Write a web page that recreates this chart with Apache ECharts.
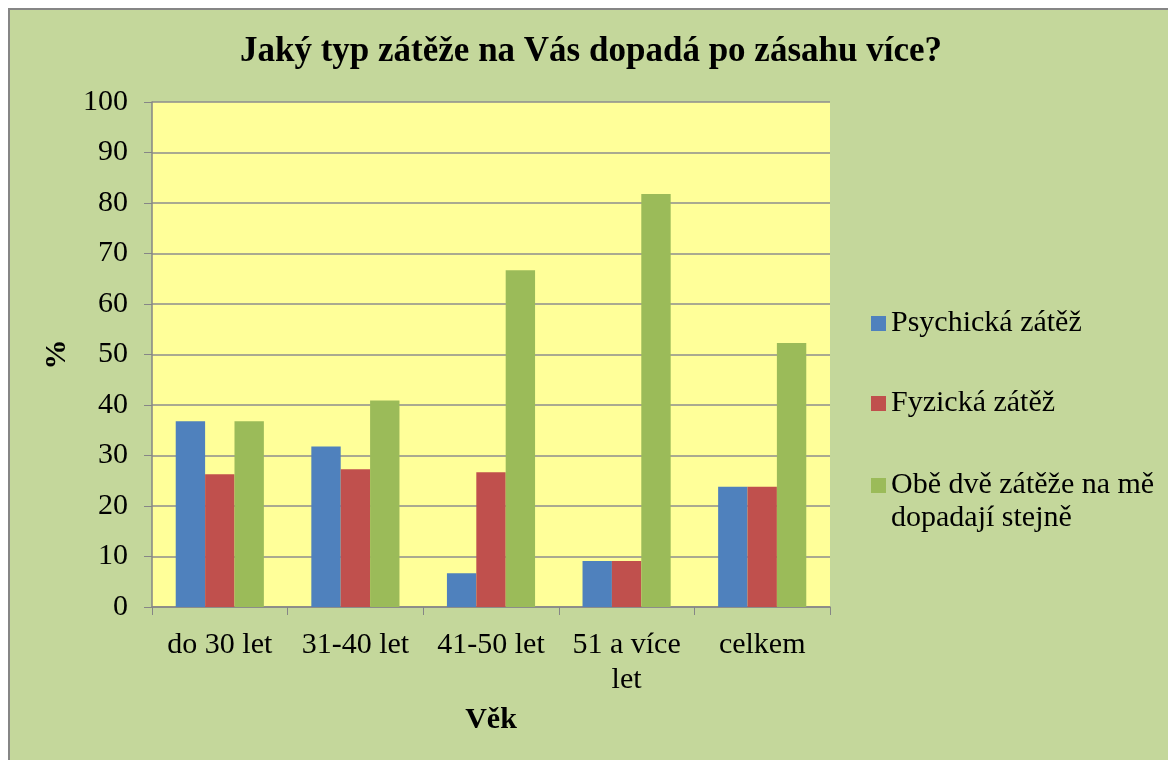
<!DOCTYPE html>
<html>
<head>
<meta charset="utf-8">
<script src="https://cdn.jsdelivr.net/npm/echarts@6/dist/echarts.min.js"></script>
<style>
  html, body { margin: 0; padding: 0; background: #fff; }
  #chart { width: 1168px; height: 760px; }
</style>
</head>
<body>
<div id="chart"></div>
<script>
// data
const categories = ['do 30 let', '31-40 let', '41-50 let', '51 a více let', 'celkem'];
const psychicka = [36.8, 31.8, 6.7, 9.1, 23.8];
const fyzicka = [26.3, 27.3, 26.7, 9.1, 23.8];
const obe = [36.8, 40.9, 66.7, 81.8, 52.3];
const yTicks = [0, 10, 20, 30, 40, 50, 60, 70, 80, 90, 100];

const seriesNames = ['Psychická zátěž', 'Fyzická zátěž', 'Obě dvě zátěže na mě dopadají stejně'];
const seriesColors = ['#4f81bd', '#c0504d', '#9bbb59'];

const FONT = 'Liberation Serif';
let myChart = echarts.init(document.getElementById('chart'));

const legendBase = {
  orient: 'vertical',
  left: 871,
  padding: 0,
  icon: 'rect',
  itemWidth: 15,
  itemHeight: 15,
  selectedMode: false,
  textStyle: { fontFamily: FONT, fontSize: 30, color: '#000', lineHeight: 33 }
};

const option = {
  animation: false,
  color: seriesColors,
  graphic: [{
    type: 'rect',
    z: -10,
    shape: { x: 9, y: 9, width: 1170, height: 770 },
    style: { fill: '#c4d79b', stroke: '#868686', lineWidth: 2 }
  }],
  title: {
    text: 'Jaký typ zátěže na Vás dopadá po zásahu více?',
    left: 240,
    top: 34,
    padding: 0,
    textStyle: { fontFamily: FONT, fontSize: 35, fontWeight: 'bold', color: '#000' }
  },
  legend: [
    Object.assign({}, legendBase, { top: 307, data: [seriesNames[0]] }),
    Object.assign({}, legendBase, { top: 387, data: [seriesNames[1]] }),
    Object.assign({}, legendBase, {
      top: 436,
      data: [seriesNames[2]],
      // empty first line keeps the icon level with the first text line
      formatter: function (n) { return '\n' + n.replace(' na mě ', ' na mě\n'); }
    })
  ],
  grid: {
    left: 152, right: 338, top: 102, bottom: 153,
    show: true, backgroundColor: '#ffff99', borderWidth: 0
  },
  xAxis: {
    type: 'category',
    data: categories,
    name: 'Věk',
    nameLocation: 'middle',
    nameGap: 98,
    nameTextStyle: { fontFamily: FONT, fontSize: 30, fontWeight: 'bold', color: '#000' },
    axisLine: { lineStyle: { color: '#868686', width: 1.5 } },
    axisTick: { show: true, length: 8, lineStyle: { color: '#868686' } },
    axisLabel: {
      fontFamily: FONT, fontSize: 30, color: '#000', margin: 21,
      lineHeight: 35, interval: 0,
      formatter: function (v) { return v.replace('více let', 'více\nlet'); }
    }
  },
  yAxis: {
    type: 'value',
    min: 0, max: 100, interval: 10,
    name: '%',
    nameLocation: 'middle',
    nameGap: 80,
    nameTextStyle: { fontFamily: FONT, fontSize: 30, fontWeight: 'bold', color: '#000' },
    axisLine: { show: true, lineStyle: { color: '#868686', width: 1.5 } },
    axisTick: { show: true, length: 8, lineStyle: { color: '#868686' } },
    splitLine: { lineStyle: { color: '#8e8e8e', width: 1.5 } },
    axisLabel: {
      fontFamily: FONT, fontSize: 30, color: '#000', margin: 24,
      formatter: function (v) { return yTicks.indexOf(v) >= 0 ? String(v) : ''; }
    }
  },
  series: [
    { name: seriesNames[0], type: 'bar', data: psychicka, barGap: '0%', barCategoryGap: '35%', itemStyle: { color: seriesColors[0] } },
    { name: seriesNames[1], type: 'bar', data: fyzicka, barGap: '0%', barCategoryGap: '35%', itemStyle: { color: seriesColors[1] } },
    { name: seriesNames[2], type: 'bar', data: obe, barGap: '0%', barCategoryGap: '35%', itemStyle: { color: seriesColors[2] } }
  ]
};

myChart.setOption(option);
</script>
</body>
</html>
